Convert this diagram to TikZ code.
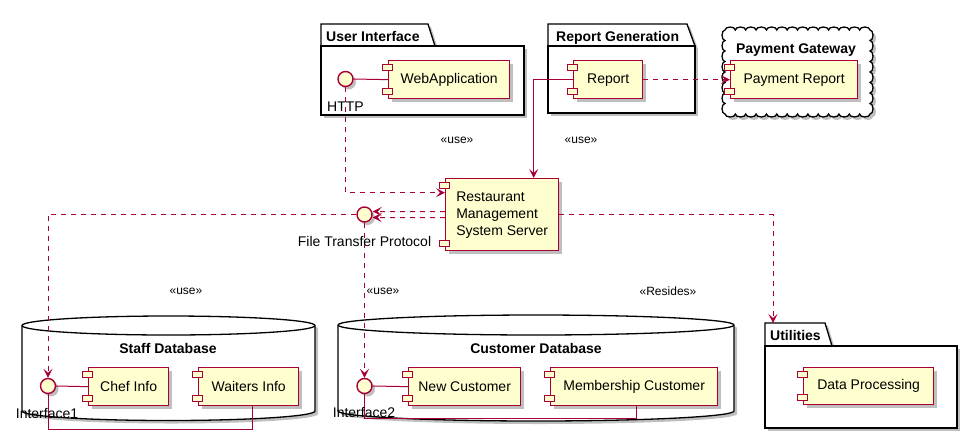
\documentclass[tikz,border=0pt]{standalone}
\usepackage{fontspec}
\setmainfont{Liberation Sans}
\usetikzlibrary{arrows.meta,shadows}
\definecolor{umlred}{HTML}{A80036}
\definecolor{umlfill}{HTML}{FEFECE}
\tikzset{
  shad/.style={drop shadow={shadow xshift=3pt,shadow yshift=-3pt,fill=black,opacity=0.25}},
  comp/.style={rectangle, draw=umlred, fill=umlfill, line width=1.3pt, shad, inner sep=0pt,
    font=\fontsize{14}{17}\selectfont, anchor=north west},
  compicon/.style={draw=umlred, fill=umlfill, line width=1pt},
  iface/.style={circle, draw=umlred, fill=umlfill, line width=1.4pt, minimum size=15pt, inner sep=0pt, shad},
  ilabel/.style={font=\fontsize{14}{17}\selectfont, anchor=base, inner sep=0pt},
  ptitle/.style={font=\fontsize{14}{17}\selectfont\bfseries, anchor=base west, inner sep=0pt},
  dtitle/.style={font=\fontsize{14}{17}\selectfont\bfseries, anchor=base, inner sep=0pt},
  pkg/.style={draw=black, fill=white, line width=1.3pt, shad},
  stereo/.style={font=\fontsize{12}{14}\selectfont, inner sep=0pt},
  conn/.style={draw=umlred, line width=1pt},
  tipstyle/.style={-{Stealth[length=9pt,width=9pt,inset=4pt]}},
  dep/.style={conn, dash pattern=on 5pt off 5pt, tipstyle},
  uses/.style={conn, tipstyle},
}
\newcommand\umlcomp[6]{%
  \node[comp, minimum width=#4pt-#2pt, minimum height=#5pt-#3pt] (#1) at (#2,#3) {#6};
  \draw[compicon] ([xshift=-6pt,yshift=-4pt]#1.north west) rectangle ++(10pt,-6pt);
  \draw[compicon] ([xshift=-6pt,yshift=5pt]#1.south west) rectangle ++(10pt,6pt);
}
\newcommand\umlpkg[7]{%
  \path[pkg] (#1,#2) -- (#3,#2) -- (#4,#5) -- (#1,#5) -- cycle;
  \path[pkg] (#1,#5) rectangle (#6,#7);
}
\newcommand\umldb[6]{%
  \path[pkg] (#1,#3+#4) -- (#1,#5) arc[start angle=180,end angle=360,x radius=#6pt,y radius=#4pt]
    -- (#2,#3+#4) arc[start angle=0,end angle=180,x radius=#6pt,y radius=#4pt] -- cycle;
  \draw[black,line width=1.3pt] (#1,#3+#4) arc[start angle=180,end angle=360,x radius=#6pt,y radius=#4pt];
}
\begin{document}
\begin{tikzpicture}[x=1pt,y=-1pt]
\useasboundingbox (0,0) rectangle (977,440);

% containers
\umlpkg{321}{24}{428}{435}{46}{524}{115}
\node[ptitle] (tUI) at (326,41) {User Interface};
\umlpkg{548}{24}{687}{695}{46}{695}{113}
\node[ptitle] (tRG) at (556,41) {Report Generation};
\path[pkg] (725,30)
  \foreach \i in {1,...,14}{ arc[start angle=180,end angle=0,x radius=5.179pt,y radius=3pt] }
  \foreach \i in {1,...,8}{ arc[start angle=90,end angle=-90,x radius=3pt,y radius=5.25pt] }
  \foreach \i in {1,...,14}{ arc[start angle=0,end angle=-180,x radius=5.179pt,y radius=3pt] }
  \foreach \i in {1,...,8}{ arc[start angle=270,end angle=90,x radius=3pt,y radius=5.25pt] } -- cycle;
\node[dtitle] (tPG) at (796,53) {Payment Gateway};
\umlpkg{765}{323}{825}{832}{346}{957}{428}
\node[ptitle] (tUT) at (770,340) {Utilities};
\umldb{22}{315}{316}{9.5}{411}{146.5}
\node[dtitle] (tSD) at (168,353) {Staff Database};
\umldb{338}{734}{315}{10}{411}{198}
\node[dtitle] (tCD) at (536,353) {Customer Database};

% components
\umlcomp{webapp}{388}{60}{509}{98}{WebApplication}
\umlcomp{report}{573}{60}{642}{98}{Report}
\umlcomp{payrep}{730}{60}{857}{98}{Payment Report}
\node[comp, align=left, minimum width=113pt, minimum height=72pt] (server) at (445,178)
  {Restaurant\\Management\\System Server};
\draw[compicon] ([xshift=-6pt,yshift=-4pt]server.north west) rectangle ++(10pt,-6pt);
\draw[compicon] ([xshift=-6pt,yshift=5pt]server.south west) rectangle ++(10pt,6pt);
\umlcomp{chef}{88}{367}{168}{405}{Chef Info}
\umlcomp{waiters}{198}{367}{298}{405}{Waiters Info}
\umlcomp{newcust}{408}{367}{520}{405}{New Customer}
\umlcomp{memb}{550}{367}{717}{405}{Membership Customer}
\umlcomp{dataproc}{803}{367}{933}{404}{Data Processing}

% interfaces
\node[iface] (http) at (345.5,79) {};
\node[iface] (ftp) at (364.5,214.5) {};
\node[iface] (if1) at (48,386) {};
\node[iface] (if2) at (364.5,386) {};
\coordinate (utiltop) at (773,323);

% connectors
\draw[conn] (http.east) -- (webapp.west);
\draw[dep] (http.south) |- ([yshift=22pt]server.west);
\draw[uses] (report.west) -| ([xshift=31.5pt]server.north);
\draw[dep] (report.east) -- (payrep.west);
\draw[dep] ([yshift=3pt]server.west) -- ([yshift=3pt]ftp.east);
\draw[dep] ([yshift=-3pt]server.west) -- ([yshift=-3pt]ftp.east);
\draw[dep] (ftp.west) -| (if1.north);
\draw[dep] (ftp.south) -- (if2.north);
\draw[dep] (server.east) -| (utiltop);
\draw[conn] (if1.east) -- (chef.west);
\draw[conn] (if1.south) |- ([xshift=4pt,yshift=-23pt]waiters.south) -- ([xshift=4pt]waiters.south);
\draw[conn] (if2.east) -- (newcust.west);
\draw[conn] (if2.south) |- ([xshift=2.5pt,yshift=-12pt]memb.south) -- ([xshift=2.5pt]memb.south);

% labels
\node[ilabel] (lhttp) at (345.5,111) {HTTP};
\node[ilabel] (lftp) at (364.5,246) {File Transfer Protocol};
\node[ilabel] (lif1) at (47,418) {Interface1};
\node[ilabel] (lif2) at (364,417) {Interface2};
\node[stereo] (s1) at (457,140) {«use»};
\node[stereo] (s2) at (581,140) {«use»};
\node[stereo] (s3) at (186,291) {«use»};
\node[stereo] (s4) at (383,291) {«use»};
\node[stereo] (s5) at (668,291) {«Resides»};
\end{tikzpicture}
\end{document}
